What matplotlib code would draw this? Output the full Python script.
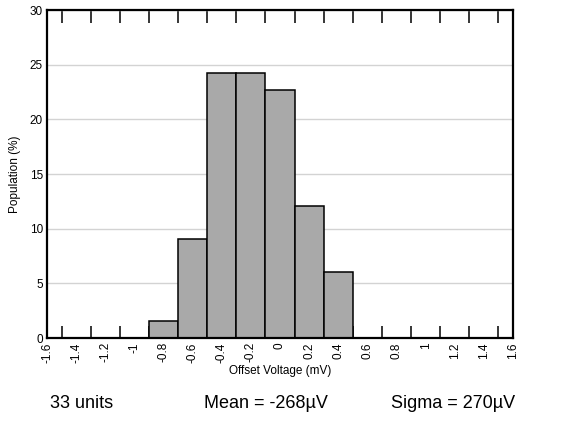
import numpy as np
import matplotlib
matplotlib.use("Agg")
import matplotlib.pyplot as plt

plt.rcParams.update({
    "font.family": ["Liberation Sans", "DejaVu Sans"],
    "axes.unicode_minus": False,
})

# histogram data (bin centres in mV, population in %)
bin_centers = [-0.8, -0.6, -0.4, -0.2, 0.0, 0.2, 0.4]
population = [1.52, 9.09, 24.24, 24.24, 22.73, 12.12, 6.06]
bin_width = 0.2

x_labels = ["-1.6", "-1.4", "-1.2", "-1", "-0.8", "-0.6", "-0.4", "-0.2", "0",
            "0.2", "0.4", "0.6", "0.8", "1", "1.2", "1.4", "1.6"]
x_label_pos = np.round(np.arange(-1.6, 1.61, 0.2), 2)
tick_marks = np.round(np.arange(-1.5, 1.51, 0.2), 2)
y_ticks = [0, 5, 10, 15, 20, 25, 30]

fig = plt.figure(figsize=(5.61, 4.21), dpi=100)
ax = fig.add_axes([0.0838, 0.197, 0.8306, 0.779])

ax.bar(bin_centers, population, width=bin_width, color="#a9a9a9",
       edgecolor="black", linewidth=1.1, zorder=3)

ax.set_xlim(-1.6, 1.6)
ax.set_ylim(0, 30)

# labels at values, tick marks at bin edges
ax.set_xticks(x_label_pos)
ax.set_xticklabels(x_labels, rotation=90, fontsize=8.5)
ax.tick_params(axis="x", which="major", length=0, pad=3)
ax.set_xticks(tick_marks, minor=True)
ax.tick_params(axis="x", which="minor", direction="in", length=9, width=1.1,
               top=True, bottom=True, color="black")

ax.set_yticks(y_ticks)
ax.set_yticklabels([str(v) for v in y_ticks], fontsize=8.5)
ax.tick_params(axis="y", length=0, pad=3)

ax.grid(axis="y", color="#d3d3d3", linewidth=1.0, zorder=0)
for s in ax.spines.values():
    s.set_linewidth(1.6)
    s.set_zorder(5)

ax.set_ylabel("Population (%)", fontsize=8.5, labelpad=6)
ax.set_xlabel("Offset Voltage (mV)", fontsize=8.5, labelpad=2)

fig.text(82 / 561, 1 - 404 / 421, "33 units", ha="center", va="center", fontsize=13)
fig.text(266 / 561, 1 - 404 / 421, "Mean = -268µV", ha="center", va="center", fontsize=13)
fig.text(453 / 561, 1 - 404 / 421, "Sigma = 270µV", ha="center", va="center", fontsize=13)

fig.savefig("out.png", dpi=100)
